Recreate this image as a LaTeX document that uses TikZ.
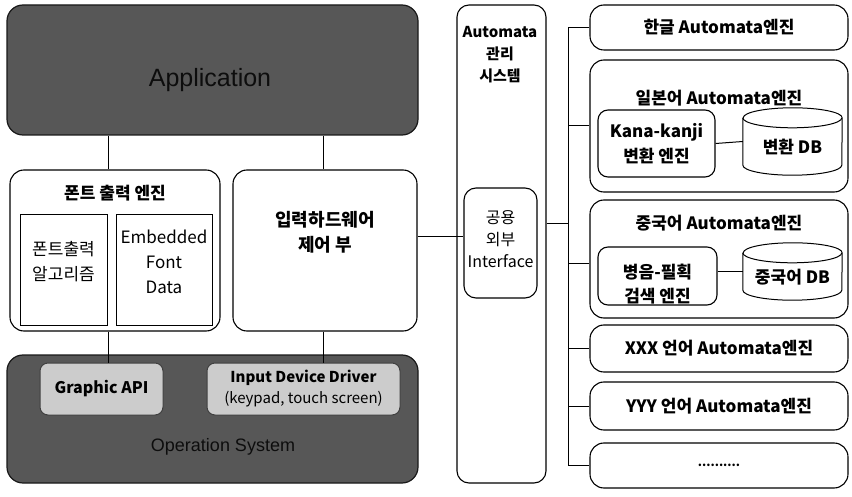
\documentclass[tikz,border=0pt]{standalone}
\usepackage{fontspec}
\setmainfont{Noto Sans CJK KR}
\newfontfamily\lat{Liberation Sans}
\begin{document}
\begin{tikzpicture}[x=1pt,y=-1pt,
  rbox/.style={draw, rounded corners=14pt, line width=1.1pt, inner sep=0pt, fill=white},
  sbox/.style={draw, line width=1pt, inner sep=0pt},
  dbox/.style={draw=black!90, rounded corners=16pt, fill=black!66, line width=1.2pt, inner sep=0pt},
  lbox/.style={draw=black!75, rounded corners=8pt, fill=black!20, line width=1pt, inner sep=0pt, align=center},
  conn/.style={line width=1pt},
  bt/.style={font=\fontsize{17}{25}\selectfont\bfseries, align=center, inner sep=0pt},
  rt/.style={font=\fontsize{17}{25}\selectfont, align=center, inner sep=0pt},
  cyl/.style={line width=1pt}
]
\useasboundingbox (0,0) rectangle (852,497);
\fill[white] (0,0) rectangle (852,497);

% ---------- left column ----------
\node[dbox, minimum width=411pt, minimum height=130pt] (app) at (212.5,70) {};
\node[inner sep=0pt, text=black!95, font=\lat\fontsize{25}{28}\selectfont] (apptxt) at (210,80) {Application};

\node[rbox, minimum width=210pt, minimum height=161pt] (font) at (115,250.5) {};
\node[bt] (fonttitle) at (115,193) {폰트 출력 엔진};
\node[sbox, minimum width=87pt, minimum height=110pt] (fontalg) at (63.5,270) {};
\node[rt] (fontalgtxt) at (63.5,262) {폰트출력\\알고리즘};
\node[sbox, minimum width=96pt, minimum height=110pt] (embed) at (164,270) {};
\node[rt] (embedtxt) at (164,262) {Embedded\\Font\\Data};

\node[rbox, minimum width=184pt, minimum height=161pt] (inhw) at (325,250.5) {};
\node[bt, font=\fontsize{18}{25}\selectfont\bfseries] (inhwtxt) at (325,232) {입력하드웨어\\제어 부};

\node[dbox, minimum width=411pt, minimum height=128pt] (os) at (212.5,419) {};
\node[lbox, minimum width=123pt, minimum height=52pt, font=\fontsize{16}{19}\selectfont\bfseries] (gapi) at (101.5,389) {Graphic API};
\node[lbox, minimum width=193pt, minimum height=52pt, font=\fontsize{15}{21}\selectfont] (idd) at (303.5,389) {\textbf{Input Device Driver}\\(keypad, touch screen)};
\node[inner sep=0pt, text=black!95, font=\lat\fontsize{18}{22}\selectfont] (ostxt) at (223,447) {Operation System};

\coordinate (c108) at (108,0);
\coordinate (c323) at (323,0);
\draw[conn] (app.south -| c108) -- (font.north -| c108);
\draw[conn] (app.south -| c323) -- (inhw.north -| c323);
\draw[conn] (font.south -| c108) -- (gapi.north -| c108);
\draw[conn] (inhw.south -| c323) -- (idd.north -| c323);

% ---------- automata manager ----------
\node[rbox, fill=none, rounded corners=12pt, minimum width=89pt, minimum height=478pt] (auto) at (501.5,244) {};
\node[bt, font=\fontsize{15}{22}\selectfont\bfseries] (autotxt) at (500,55) {Automata\\관리\\시스템};
\node[rbox, rounded corners=12pt, minimum width=73pt, minimum height=110pt] (iface) at (500.5,243) {};
\node[rt, font=\fontsize{16}{22}\selectfont] (ifacetxt) at (500.5,239) {공용\\외부\\Interface};

\coordinate (l237) at (0,237);
\coordinate (l224) at (0,224);
\draw[conn] (inhw.east |- l237) -- (iface.west |- l237);

% ---------- right column ----------
\node[rbox, minimum width=258pt, minimum height=45pt, font=\fontsize{17}{20}\selectfont\bfseries] (hangul) at (719,27.5) {한글 Automata엔진};

\node[rbox, minimum width=258pt, minimum height=132pt] (jp) at (719,126) {};
\node[bt] (jptitle) at (719,98) {일본어 Automata엔진};
\node[rbox, rounded corners=10pt, minimum width=117pt, minimum height=67pt, bt] (kana) at (656.5,143.5) {Kana-kanji\\변환 엔진};
\node[inner sep=0pt, minimum width=99pt, minimum height=67pt] (jpdb) at (792.5,141.5) {};
\draw[cyl] ([yshift=-10pt]jpdb.north west) -- ([yshift=10pt]jpdb.south west)
  arc[start angle=180, end angle=360, x radius=49.5pt, y radius=10pt]
  -- ([yshift=-10pt]jpdb.north east)
  arc[start angle=0, end angle=180, x radius=49.5pt, y radius=10pt];
\draw[cyl] ([yshift=-10pt]jpdb.north west) arc[start angle=180, end angle=360, x radius=49.5pt, y radius=10pt];
\node[bt] (jpdbtxt) at (792.5,147) {변환 DB};
\draw[conn] (kana.east) -- (jpdb.west);

\node[rbox, minimum width=258pt, minimum height=118pt] (cn) at (719,259) {};
\node[bt] (cntitle) at (719,223) {중국어 Automata엔진};
\node[rbox, rounded corners=10pt, minimum width=119pt, minimum height=58pt] (pinyin) at (657.5,276) {};
\node[bt, font=\fontsize{17}{24}\selectfont\bfseries] (pinyintxt) at (657.5,284) {병음-필획\\검색 엔진};
\node[inner sep=0pt, minimum width=99pt, minimum height=57pt] (cndb) at (792.5,271.5) {};
\draw[cyl] ([yshift=-10pt]cndb.north west) -- ([yshift=10pt]cndb.south west)
  arc[start angle=180, end angle=360, x radius=49.5pt, y radius=10pt]
  -- ([yshift=-10pt]cndb.north east)
  arc[start angle=0, end angle=180, x radius=49.5pt, y radius=10pt];
\draw[cyl] ([yshift=-10pt]cndb.north west) arc[start angle=180, end angle=360, x radius=49.5pt, y radius=10pt];
\node[bt] (cndbtxt) at (792.5,277) {중국어 DB};
\draw[conn] (pinyin.east |- cndb.west) -- (cndb.west);

\node[rbox, minimum width=258pt, minimum height=47pt, font=\fontsize{17}{20}\selectfont\bfseries] (xxx) at (719,348.5) {XXX 언어 Automata엔진};
\node[rbox, minimum width=258pt, minimum height=48pt, font=\fontsize{17}{20}\selectfont\bfseries] (yyy) at (719,406) {YYY 언어 Automata엔진};
\node[rbox, minimum width=258pt, minimum height=45pt, font=\fontsize{12}{14}\selectfont\bfseries] (etc) at (719,465.5) {..........};

% bus
\coordinate (bus) at (568,0);
\draw[conn] (hangul.west -| bus) -- (etc.west -| bus);
\draw[conn] (hangul.west) -- (hangul.west -| bus);
\draw[conn] (jp.west) -- (jp.west -| bus);
\draw[conn] ([yshift=-5pt]cn.west) -- ([yshift=-5pt]cn.west -| bus);
\draw[conn] (xxx.west) -- (xxx.west -| bus);
\draw[conn] (yyy.west) -- (yyy.west -| bus);
\draw[conn] (etc.west) -- (etc.west -| bus);
\draw[conn] (auto.east |- l224) -- (bus |- l224);
\end{tikzpicture}
\end{document}
